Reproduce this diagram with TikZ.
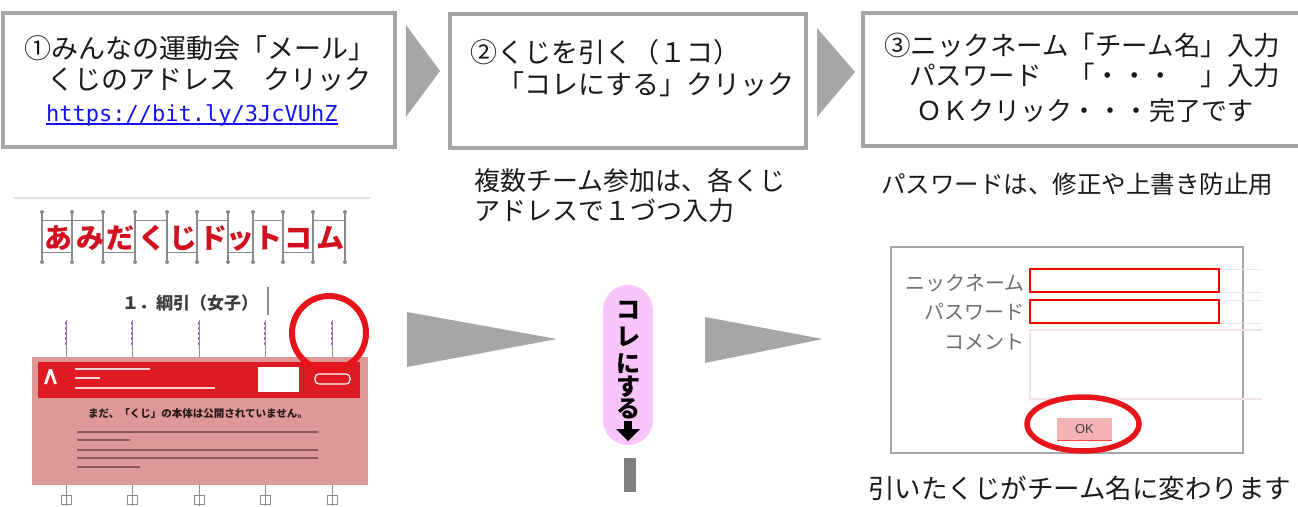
\documentclass[tikz,border=0pt]{standalone}
\usepackage{fontspec}
\newfontfamily\jp{Noto Sans CJK JP}
\newfontfamily\lat{Liberation Sans}
\setmonofont{DejaVu Sans Mono}
\newcommand\jfs[1]{\fontsize{#1}{#1}\selectfont}
\definecolor{boxgray}{HTML}{A6A6A6}
\definecolor{txtc}{HTML}{1A1A1A}
\definecolor{urlblue}{RGB}{20,20,240}
\definecolor{circred}{HTML}{E8141C}
\definecolor{inred}{HTML}{F00000}
\definecolor{pinkov}{RGB}{222,152,152}
\definecolor{headred}{RGB}{224,26,34}
\definecolor{btnpink}{RGB}{249,196,249}
\definecolor{okpink}{RGB}{245,178,178}
\definecolor{okgray}{HTML}{444444}
\definecolor{labgray}{HTML}{6E6E6E}
\definecolor{faintc}{HTML}{F0E4E4}
\definecolor{polegray}{HTML}{8C8C8C}
\definecolor{logored}{HTML}{D0101E}
\definecolor{msgc}{HTML}{2A1A1A}
\definecolor{msgline}{HTML}{8A5858}
\definecolor{ladpurple}{HTML}{A070C8}
\definecolor{bargray}{HTML}{808080}
\definecolor{shotline}{HTML}{E6DCE6}
\begin{document}
\begin{tikzpicture}[x=1pt,y=-1pt,
  stepbox/.style={draw=boxgray,line width=4pt,inner sep=0pt},
  jt/.style={inner sep=0pt,anchor=base west,text=txtc,font=\jp\jfs{#1}},
  logo/.style={inner sep=0pt,anchor=base,text=logored,font=\jp\bfseries\jfs{28}},
  btxt/.style={inner sep=0pt,anchor=base,text=black,font=\jp\bfseries\jfs{24}},
  flab/.style={inner sep=0pt,anchor=base east,text=labgray,font=\jp\jfs{20}},
  inbox/.style={draw=inred,line width=2.5pt,inner sep=0pt,minimum width=189pt,minimum height=23pt}]
\clip (0,0) rectangle (1298,506);
\fill[white] (0,0) rectangle (1298,506);

% ---------- top step boxes ----------
\node[stepbox,minimum width=392pt,minimum height=134pt] (box1) at (199,80) {};
\node[stepbox,minimum width=356pt,minimum height=134pt] (box2) at (628,81) {};
\node[stepbox,minimum width=447pt,minimum height=133pt] (box3) at (1086.5,79.5) {};
\fill[boxgray] (406,25) -- (440,71) -- (406,117) -- cycle;
\fill[boxgray] (817,28) -- (855,72) -- (817,117) -- cycle;

\node[jt=27] (t1a) at (24,58) {①みんなの運動会「メール」};
\node[jt=27] (t1b) at (47,89) {くじのアドレス　クリック};
\node[inner sep=0pt,anchor=base west,text=urlblue,font=\ttfamily\jfs{22}] (url) at (46,121) {https://bit.ly/3JcVUhZ};
\draw[urlblue,line width=1.5pt] ([yshift=-3pt]url.base west) -- ([yshift=-3pt]url.base east);

\node[jt=27] (t2a) at (470,62) {②くじを引く（１コ）};
\node[jt=27] (t2b) at (497,94) {「コレにする」クリック};
\node[jt=26] (c2a) at (474,190) {複数チーム参加は、各くじ};
\node[jt=26] (c2b) at (474,220) {アドレスで１づつ入力};

\node[jt=26.5] (t3a) at (884,55) {③ニックネーム「チーム名」入力};
\node[jt=26.5] (t3b) at (909,85) {パスワード　「・・・　」入力};
\node[jt=26] (t3c) at (916,120) {ＯＫクリック・・・完了です};
\node[jt=24.5] (c3) at (881,193) {パスワードは、修正や上書き防止用};

% ---------- screenshot of the site ----------
\draw[shotline,line width=1.5pt] (14,198) -- (370,198);
\foreach \px in {42,72,103,135,167,197,228,253,283,313,345}{
  \draw[polegray,line width=1.2pt] (\px,212) -- (\px,262);
  \fill[polegray] (\px,212) circle[radius=2pt];
  \fill[polegray] (\px,262) circle[radius=2pt];
}
\foreach \a/\b in {42/72,72/103,135/167,197/228,253/283,313/345}
  \draw[polegray,line width=1pt] (\a,220) -- (\b,220);
\foreach \a/\b in {42/72,103/135,167/197,228/253,283/313}
  \draw[polegray,line width=1pt] (\a,252) -- (\b,252);
\foreach \c/\lx [count=\i] in {あ/58,み/90,だ/120,く/152,じ/183,ド/213,ッ/240,ト/268,コ/298,ム/330}
  \node[logo] (lg\i) at (\lx,248) {\c};
\node[inner sep=0pt,anchor=base,text=txtc!85,font=\jp\bfseries\jfs{17}] (title) at (190,309) {１．綱引（女子）};
\draw[polegray,line width=1.2pt] (268,287) -- (268,315);
\foreach \lx in {66,132,199,265,332}{
  \draw[polegray,line width=1pt] (\lx,320) -- (\lx,358);
  \draw[ladpurple,line width=2.5pt,dash pattern=on 3pt off 2pt] (\lx,322) -- (\lx,346);
  \draw[polegray,line width=1pt] (\lx,484) -- (\lx,506);
  \draw[polegray,line width=1pt] (\lx-5,495) rectangle (\lx+5,504);
}
\fill[pinkov] (32,357) rectangle (368,485);
\fill[headred] (38,362) rectangle (360,398);
\fill[white] (258,367) rectangle (299,392);
\draw[white,line width=1.2pt,rounded corners=4pt] (315,374) rectangle (350,384);
\fill[white] (44,384) -- (49,369) -- (52,369) -- (57,384) -- (54,384) -- (50.5,374) -- (47,384) -- cycle;
\draw[white!80!headred,line width=2pt] (75,369) -- (150,369);
\draw[white!80!headred,line width=2pt] (75,378) -- (100,378);
\draw[white!80!headred,line width=2pt] (75,388) -- (215,388);
\node[inner sep=0pt,anchor=base,text=msgc,font=\jp\bfseries\jfs{10.5}] (msg) at (198,417) {まだ、「くじ」の本体は公開されていません。};
\foreach \ly/\lx in {432/318,440/130,450/318,458/318,467/140}
  \draw[msgline,line width=2pt] (77,\ly) -- (\lx,\ly);
\draw[circred,line width=6pt] (329,333) circle[radius=37pt];

% ---------- middle arrows and button ----------
\fill[boxgray] (407,312) -- (557,339) -- (407,367) -- cycle;
\fill[boxgray] (705,317) -- (823,339) -- (705,363) -- cycle;
\node[fill=btnpink,rounded corners=25pt,minimum width=50pt,minimum height=160pt,inner sep=0pt] (btn) at (628,365) {};
\foreach \c/\by [count=\i] in {コ/318,レ/345,に/372,す/395,る/417}
  \node[btxt] (bt\i) at (628,\by) {\c};
\fill[black] (624,421) rectangle (632,430);
\fill[black] (616,429) -- (640,429) -- (628,441) -- cycle;
\fill[bargray] (624,458) rectangle (636,492);

% ---------- form ----------
\node[draw=boxgray,line width=2.5pt,minimum width=352pt,minimum height=206pt,inner sep=0pt] (form) at (1067,350) {};
\draw[faintc,line width=1pt] (1219,269) -- (1262,269);
\draw[faintc,line width=1pt] (1219,292) -- (1262,292);
\draw[faintc,line width=1pt] (1219,300) -- (1262,300);
\draw[faintc,line width=1pt] (1219,323) -- (1262,323);
\draw[faintc,line width=1.2pt] (1262,330) -- (1030,330) -- (1030,399) -- (1262,399);
\node[inbox] (nick) at (1124.5,280.5) {};
\node[inbox] (pw) at (1124.5,311.5) {};
\node[flab] (lnick) at (1025,290) {ニックネーム};
\node[flab] (lpw) at (1025,319) {パスワード};
\node[flab] (lcom) at (1025,349) {コメント};
\node[fill=okpink,minimum width=55pt,minimum height=22pt,inner sep=0pt,text=okgray,font=\lat\jfs{13}] (ok) at (1084.5,429) {OK};
\draw[red!75,line width=1pt] (ok.south west) -- (ok.south east);
\draw[circred,line width=5.5pt] (1083,424) ellipse[x radius=56pt,y radius=27pt];
\node[jt=26.5] (cap) at (868,498) {引いたくじがチーム名に変わります};
\end{tikzpicture}
\end{document}
